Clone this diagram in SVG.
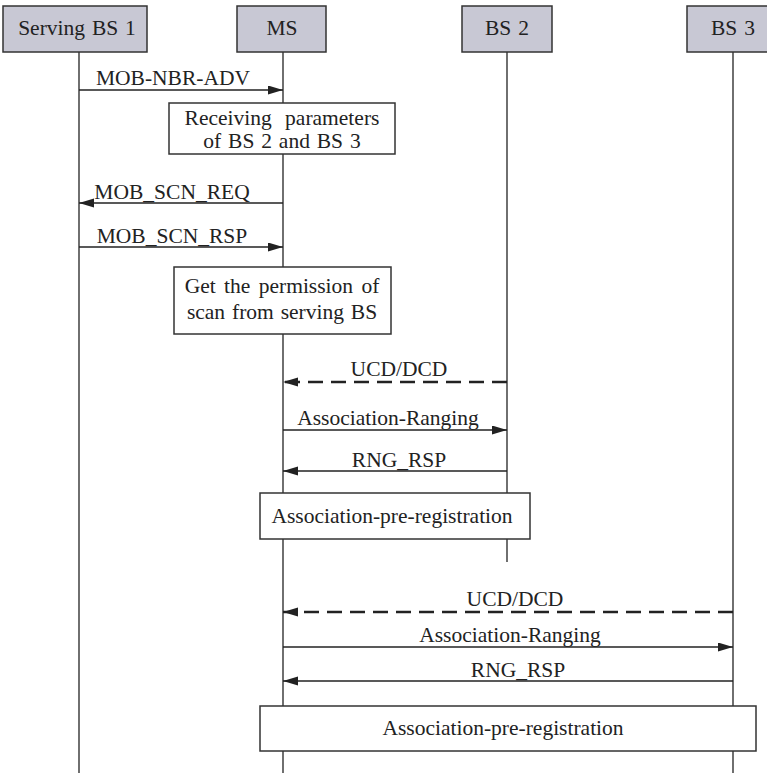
<svg xmlns="http://www.w3.org/2000/svg" width="767" height="775" viewBox="0 0 767 775">
<style>
text{font-family:"Liberation Serif","Times New Roman",serif;font-size:21.5px;fill:#222;text-anchor:middle;word-spacing:1.5px}
.hdr{fill:#c8c8d4;stroke:#333;stroke-width:1.5}
.life{stroke:#333;stroke-width:1.4;fill:none}
.box{fill:#fff;stroke:#333;stroke-width:1.5}
.msg{stroke:#222;stroke-width:1.3;fill:none;marker-end:url(#ah)}
.dash{stroke:#222;stroke-width:2.6;fill:none;stroke-dasharray:15 8;marker-end:url(#ah)}
</style>
<defs>
<marker id="ah" markerUnits="userSpaceOnUse" markerWidth="16" markerHeight="10" refX="15" refY="4.5" orient="auto">
<path d="M0,0 L15,4.5 L0,9 z" fill="#222" stroke="none"/>
</marker>
</defs>
<rect width="767" height="775" fill="#fff"/>
<g id="lifelines">
<line class="life" x1="79" y1="52" x2="79" y2="773"/>
<line class="life" x1="283" y1="52" x2="283" y2="773"/>
<line class="life" x1="507" y1="52" x2="507" y2="562"/>
<line class="life" x1="733" y1="52" x2="733" y2="773"/>
</g>
<g id="serving-bs1"><rect class="hdr" x="3" y="6" width="144" height="46"/><text x="77" y="35">Serving BS 1</text></g>
<g id="ms"><rect class="hdr" x="237" y="6" width="89" height="46"/><text x="282" y="35">MS</text></g>
<g id="bs2"><rect class="hdr" x="462" y="6" width="90" height="46"/><text x="507" y="35">BS 2</text></g>
<g id="bs3"><rect class="hdr" x="687" y="6" width="84" height="46"/><text x="733" y="35">BS 3</text></g>
<g id="note-receiving"><rect class="box" x="169" y="103" width="226" height="51"/><text x="282" y="125" style="word-spacing:8px">Receiving parameters</text><text x="282" y="148">of BS 2 and BS 3</text></g>
<g id="note-permission"><rect class="box" x="174" y="267" width="217" height="67"/><text x="282" y="293" style="word-spacing:3px">Get the permission of</text><text x="282" y="319">scan from serving BS</text></g>
<g id="note-prereg1"><rect class="box" x="260" y="493" width="270" height="46"/><text x="392" y="523">Association-pre-registration</text></g>
<g id="note-prereg2"><rect class="box" x="260" y="706" width="496" height="45"/><text x="503" y="735">Association-pre-registration</text></g>
<g id="connectors">
<line class="msg" x1="79" y1="90" x2="283" y2="90"/>
<text x="173" y="85">MOB-NBR-ADV</text>
<line class="msg" x1="283" y1="203" x2="79" y2="203"/>
<text x="172" y="199">MOB_SCN_REQ</text>
<line class="msg" x1="79" y1="247" x2="283" y2="247"/>
<text x="172" y="243">MOB_SCN_RSP</text>
<line class="dash" x1="507" y1="382" x2="283" y2="382"/>
<text x="399" y="376">UCD/DCD</text>
<line class="msg" x1="283" y1="430" x2="507" y2="430"/>
<text x="388" y="425">Association-Ranging</text>
<line class="msg" x1="507" y1="471" x2="283" y2="471"/>
<text x="399" y="467">RNG_RSP</text>
<line class="dash" x1="733" y1="612" x2="283" y2="612"/>
<text x="515" y="606">UCD/DCD</text>
<line class="msg" x1="283" y1="647" x2="733" y2="647"/>
<text x="510" y="642">Association-Ranging</text>
<line class="msg" x1="733" y1="681" x2="283" y2="681"/>
<text x="518" y="677">RNG_RSP</text>
</g>
</svg>
